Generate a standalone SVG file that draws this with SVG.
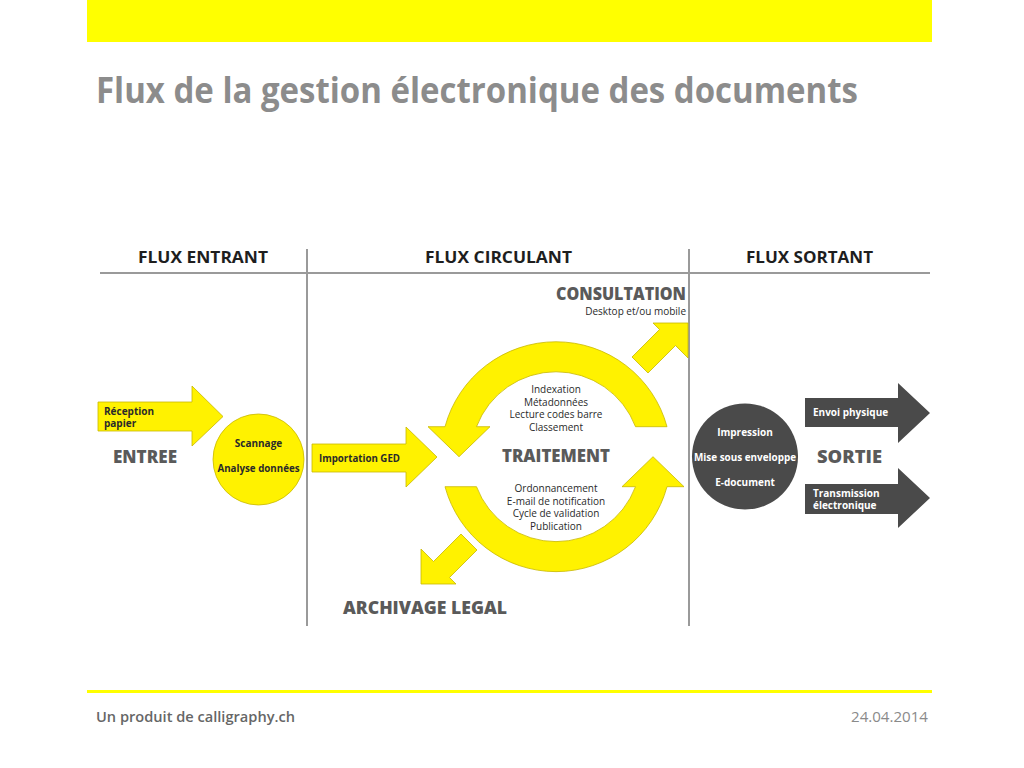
<svg xmlns="http://www.w3.org/2000/svg" width="1024" height="768" viewBox="0 0 1024 768">
<defs>
<style>
.y{fill:#FFF200;stroke:#C8B800;stroke-width:0.8;stroke-linejoin:round}
.d{fill:#4a4a4a}
.div{stroke:#9a9a9a;stroke-width:2;fill:none}
.hd{font-family:"Open Sans","Liberation Sans",sans-serif;font-weight:700;font-size:16px;fill:#1e1e1e}
.big{font-family:"Open Sans","Liberation Sans",sans-serif;font-weight:800;font-size:17px;fill:#5a5a5a}
.sm{font-family:"Open Sans","Liberation Sans",sans-serif;font-size:10px;fill:#2a2a2a}
.smb{font-family:"Open Sans","Liberation Sans",sans-serif;font-size:10px;font-weight:700;fill:#2a2a2a}
.wb{font-family:"Open Sans","Liberation Sans",sans-serif;font-size:10px;font-weight:700;fill:#ffffff}
</style>
</defs>
<rect width="1024" height="768" fill="#ffffff"/>
<g id="top-bar"><rect x="87" y="0" width="845" height="42" fill="#FFFF00"/></g>
<g id="title"><text x="96" y="103" font-family="'Open Sans','Liberation Sans',sans-serif" font-weight="700" font-size="35" fill="#8c8c8c" textLength="762" lengthAdjust="spacingAndGlyphs">Flux de la gestion électronique des documents</text></g>

<g id="columns">
<line class="div" x1="100" y1="273" x2="930" y2="273"/>
<line class="div" x1="307" y1="249" x2="307" y2="626"/>
<line class="div" x1="689" y1="249" x2="689" y2="626"/>
<text class="hd" x="138" y="263" textLength="130" lengthAdjust="spacingAndGlyphs">FLUX ENTRANT</text>
<text class="hd" x="425" y="263" textLength="147" lengthAdjust="spacingAndGlyphs">FLUX CIRCULANT</text>
<text class="hd" x="746" y="263" textLength="127" lengthAdjust="spacingAndGlyphs">FLUX SORTANT</text>
</g>

<g id="reception">
<path class="y" d="M98,402 L192,402 L192,386 L223,416.5 L192,446 L192,431 L98,431 Z"/>
<text class="smb" x="104" y="415">Réception</text>
<text class="smb" x="104" y="427">papier</text>
</g>
<g id="entree"><text class="big" x="113" y="463" textLength="64" lengthAdjust="spacingAndGlyphs">ENTREE</text></g>
<g id="scannage">
<circle class="y" cx="258.5" cy="459.5" r="45.5"/>
<text class="smb" x="258.5" y="447" text-anchor="middle">Scannage</text>
<text class="smb" x="258.5" y="472" text-anchor="middle" textLength="82" lengthAdjust="spacingAndGlyphs">Analyse données</text>
</g>
<g id="importation">
<path class="y" d="M312,444 L406,444 L406,427 L437,457 L406,487 L406,472 L312,472 Z"/>
<text class="smb" x="319" y="462" textLength="81" lengthAdjust="spacingAndGlyphs">Importation GED</text>
</g>

<g id="traitement">
<path class="y" d="M667,426.7 A115,115 0 0 0 445,426.7 L428,426.7 L459,456.7 L490,426.7 L476.5,426.7 A85,85 0 0 1 635.5,426.7 Z"/>
<path class="y" d="M445,486.7 A115,115 0 0 0 667,486.7 L684,486.7 L653,456.7 L622,486.7 L635.5,486.7 A85,85 0 0 1 476.5,486.7 Z"/>
<text class="sm" text-anchor="middle"><tspan x="556" y="393">Indexation</tspan><tspan x="556" y="405.5">Métadonnées</tspan><tspan x="556" y="418">Lecture codes barre</tspan><tspan x="556" y="430.5">Classement</tspan></text>
<text class="big" x="502" y="462" textLength="108" lengthAdjust="spacingAndGlyphs">TRAITEMENT</text>
<text class="sm" text-anchor="middle"><tspan x="556" y="492">Ordonnancement</tspan><tspan x="556" y="504.5">E-mail de notification</tspan><tspan x="556" y="517">Cycle de validation</tspan><tspan x="556" y="529.5">Publication</tspan></text>
</g>

<g id="connectors">
<path id="arrow-consultation" class="y" d="M632,357 L659.5,329.5 L653,323 L688,323 L688,358 L675.5,345.5 L648,373 Z"/>
<path id="arrow-archivage" class="y" d="M477,550 L449.5,577.5 L456,584 L421,584 L421,549 L433.5,561.5 L461,534 Z"/>
</g>

<g id="consultation">
<text class="big" x="556" y="300" font-size="16" textLength="130" lengthAdjust="spacingAndGlyphs">CONSULTATION</text>
<text class="sm" x="686" y="315" text-anchor="end" font-size="9">Desktop et/ou mobile</text>
</g>
<g id="archivage"><text class="big" x="343" y="614" textLength="164" lengthAdjust="spacingAndGlyphs">ARCHIVAGE LEGAL</text></g>

<g id="sortie-circle">
<circle class="d" cx="745" cy="456.5" r="53"/>
<text class="wb" x="745" y="436" text-anchor="middle">Impression</text>
<text class="wb" x="745" y="461" text-anchor="middle" textLength="102" lengthAdjust="spacingAndGlyphs">Mise sous enveloppe</text>
<text class="wb" x="745" y="486" text-anchor="middle">E-document</text>
</g>
<g id="envoi">
<path class="d" d="M805,398 L898,398 L898,383 L930,413 L898,443 L898,427 L805,427 Z"/>
<text class="wb" x="813" y="416">Envoi physique</text>
</g>
<g id="sortie"><text class="big" x="817" y="463" textLength="65" lengthAdjust="spacingAndGlyphs">SORTIE</text></g>
<g id="transmission">
<path class="d" d="M805,484 L898,484 L898,468 L930,498 L898,528 L898,514 L805,514 Z"/>
<text class="wb" x="813" y="497">Transmission</text>
<text class="wb" x="813" y="509">électronique</text>
</g>

<g id="footer">
<rect x="87" y="690" width="845" height="3" fill="#FFFF00"/>
<text x="96" y="722" font-family="'Open Sans','Liberation Sans',sans-serif" font-weight="600" font-size="14" fill="#666666" textLength="199" lengthAdjust="spacingAndGlyphs">Un produit de calligraphy.ch</text>
<text x="928" y="722" text-anchor="end" font-family="'Open Sans','Liberation Sans',sans-serif" font-size="14" fill="#8a8a8a" textLength="77" lengthAdjust="spacingAndGlyphs">24.04.2014</text>
</g>
</svg>
